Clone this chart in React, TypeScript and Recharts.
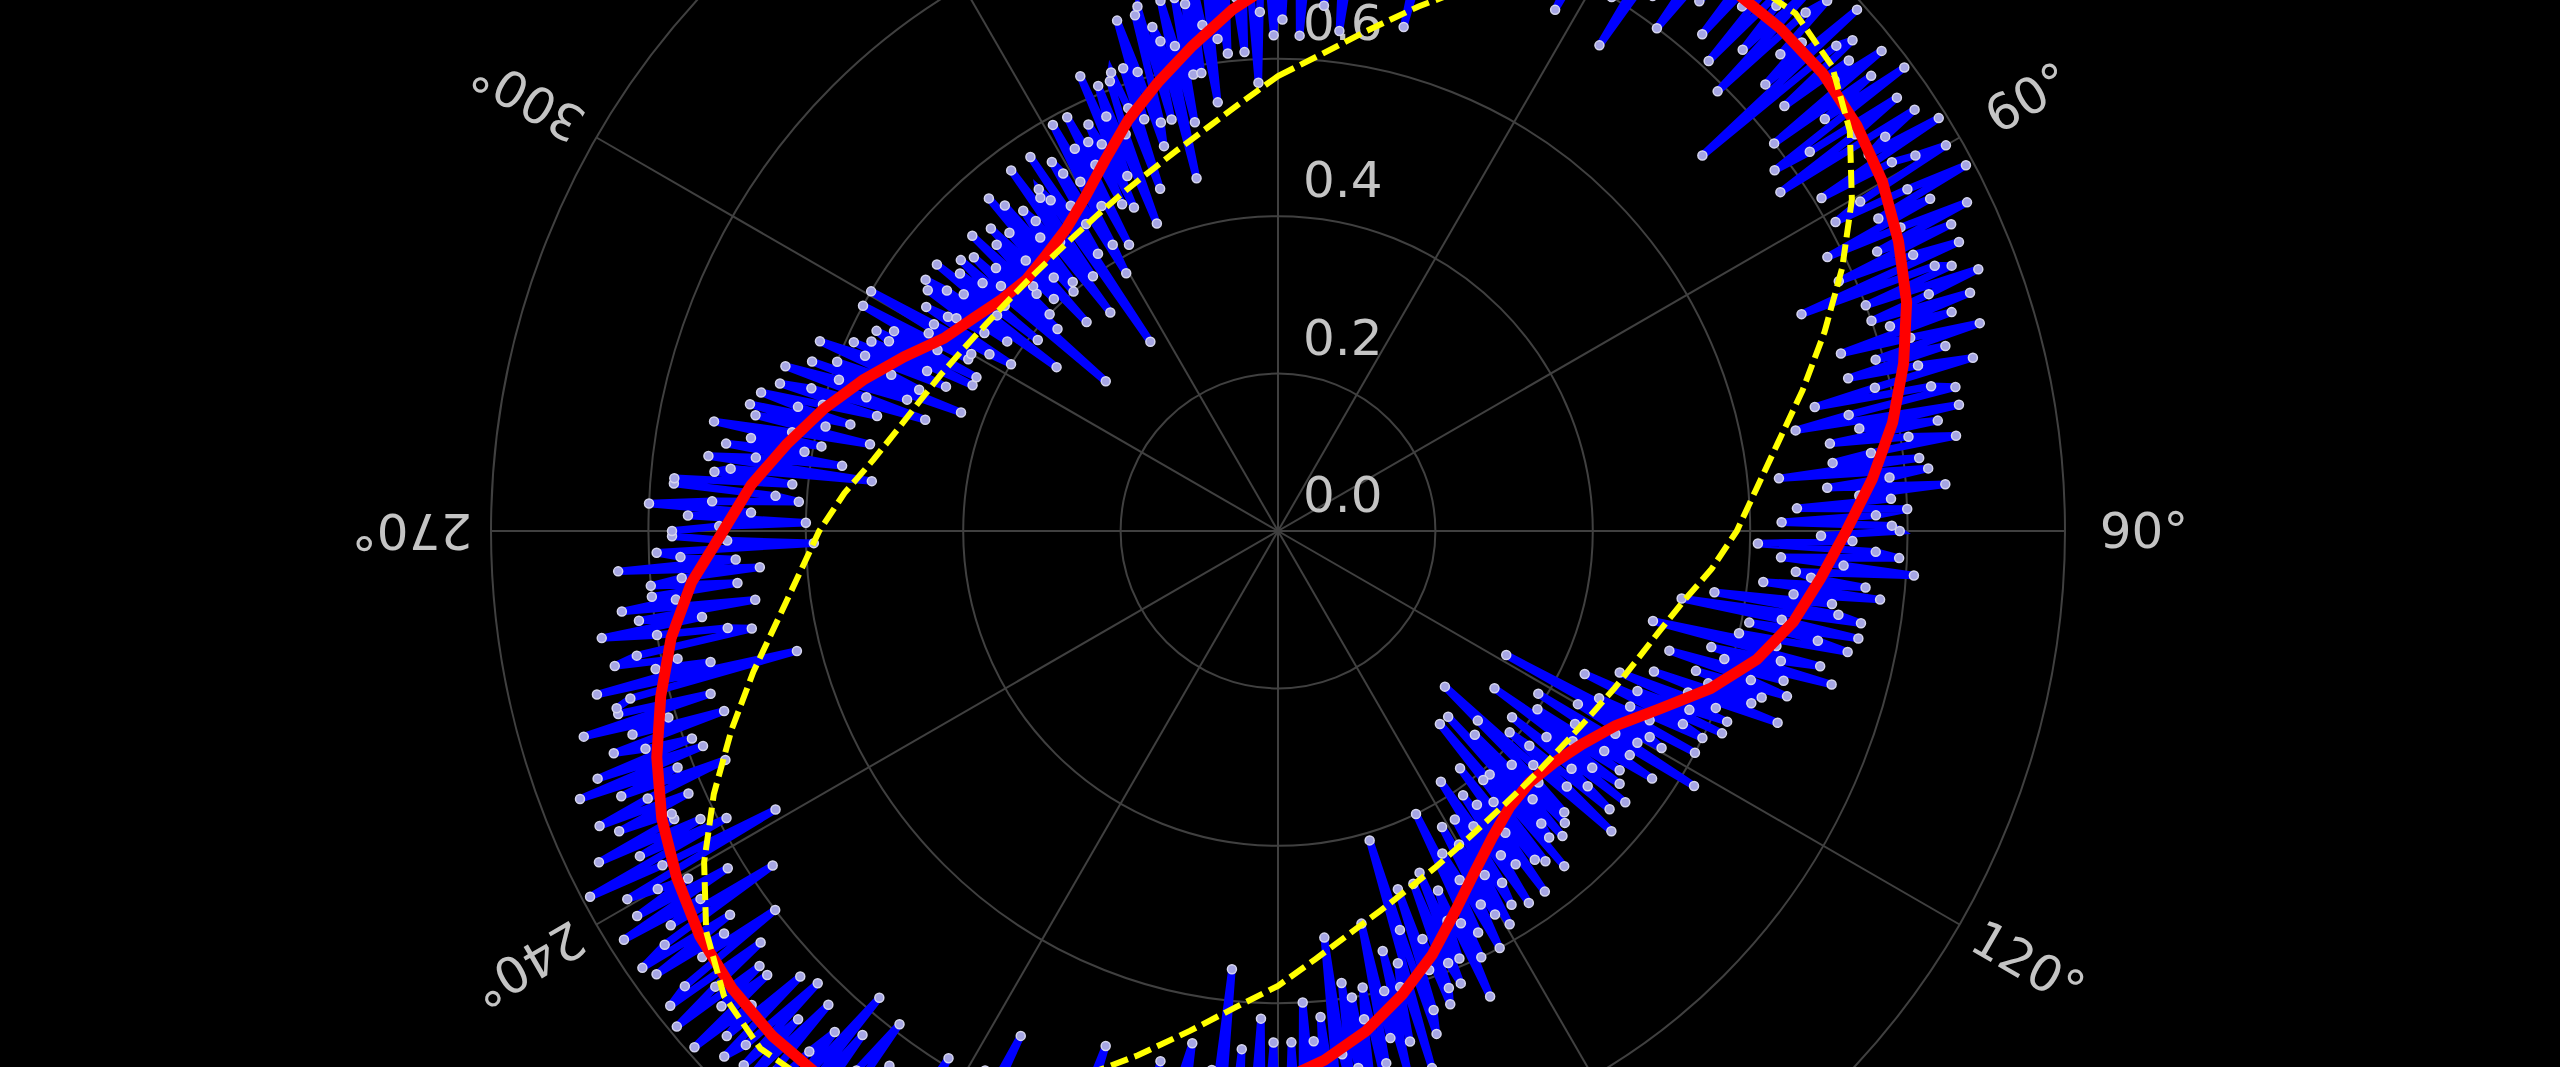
import React from 'react';
import { RadarChart, Radar, PolarGrid, PolarAngleAxis, PolarRadiusAxis } from 'recharts';

const W = 2560;
const H = 1067;
const CX = 1278;
const CY = 531;
const OUTER = 787;
const TEXT = '#c4c4c4';
const GRID = '#404040';

// angular tick labels (deg, clockwise from top)
const angleTicks = [0, 30, 60, 90, 120, 150, 180, 210, 240, 270, 300, 330];

// fitted curve (red), one value every 5 deg starting at 0
const redR = [
  0.700, 0.735, 0.770, 0.800, 0.830, 0.855, 0.875, 0.890, 0.898, 0.903,
  0.904, 0.898, 0.887, 0.870, 0.850, 0.823, 0.793, 0.758, 0.722, 0.692,
  0.665, 0.630, 0.585, 0.535, 0.495, 0.472, 0.458, 0.452, 0.458, 0.475,
  0.500, 0.533, 0.573, 0.610, 0.645, 0.675, 0.700, 0.735, 0.770, 0.800,
  0.830, 0.855, 0.875, 0.893, 0.905, 0.908, 0.905, 0.897, 0.882, 0.864,
  0.840, 0.812, 0.783, 0.748, 0.705, 0.672, 0.634, 0.598, 0.561, 0.524,
  0.490, 0.472, 0.458, 0.452, 0.458, 0.469, 0.490, 0.520, 0.556, 0.590,
  0.626, 0.665,
];

// ellipse (yellow dashed), same 5 deg steps
const yellowR = [
  0.578, 0.607, 0.645, 0.690, 0.739, 0.791, 0.842, 0.887, 0.919, 0.930,
  0.919, 0.887, 0.842, 0.791, 0.739, 0.690, 0.645, 0.610, 0.583, 0.553,
  0.522, 0.500, 0.484, 0.472, 0.462, 0.455, 0.451, 0.450, 0.451, 0.455,
  0.462, 0.472, 0.484, 0.500, 0.520, 0.546, 0.578, 0.607, 0.645, 0.690,
  0.739, 0.791, 0.842, 0.887, 0.919, 0.930, 0.919, 0.887, 0.842, 0.791,
  0.739, 0.690, 0.645, 0.610, 0.583, 0.553, 0.522, 0.500, 0.484, 0.472,
  0.462, 0.455, 0.451, 0.450, 0.451, 0.455, 0.462, 0.472, 0.484, 0.500,
  0.520, 0.546,
];

// noisy measurements (blue), one value every 0.5 deg starting at 0
const blueR = [
  .73, .65, .79, .69, .77, .63, .73, .82, .69, .78, .67, .76, .83, .72, .64, .79, .83, .70, .77, .85,
  .73, .83, .70, .81, .87, .77, .73, .84, .66, .87, .82, .75, .91, .80, .85, .74, .88, .85, .73, .88,
  .90, .80, .85, .74, .89, .92, .79, .87, .96, .81, .85, .92, .79, .95, .84, .90, .75, .92, .95, .82,
  .86, .97, .83, .92, .80, .94, .89, .74, .96, .92, .83, .99, .86, .94, .80, .91, .98, .86, .96, .89,
  .95, .83, 1.0, .89, .93, .81, .96, .92, .85, .98, .79, .94, .97, .88, .91, .84, .99, .72, .94, .96,
  .84, .94, .91, .98, .80, .95, .87, .99, .78, .83, .96, .89, .77, .97, .92, .89, .99, .81, .91, .94,
  .98, .85, .81, .91, .99, .86, .93, .78, .88, .97, .84, .94, .78, .88, .94, .72, .90, .92, .80, .95,
  .88, .80, .93, .82, .90, .75, .84, .93, .79, .88, .75, .84, .91, .78, .70, .85, .88, .74, .67, .88,
  .75, .85, .71, .81, .87, .76, .71, .82, .64, .83, .78, .70, .85, .74, .78, .66, .80, .76, .64, .78,
  .79, .69, .73, .61, .76, .79, .64, .72, .81, .66, .68, .75, .62, .77, .66, .71, .56, .72, .75, .52,
  .65, .75, .61, .70, .74, .60, .65, .49, .71, .66, .57, .73, .59, .67, .52, .63, .68, .56, .65, .58,
  .64, .51, .68, .56, .60, .47, .62, .57, .50, .62, .43, .57, .60, .50, .53, .46, .60, .33, .54, .56,
  .44, .53, .50, .62, .39, .53, .45, .57, .50, .40, .53, .46, .34, .54, .50, .43, .56, .38, .48, .51,
  .55, .42, .39, .49, .57, .44, .29, .35, .46, .51, .42, .52, .36, .47, .53, .32, .50, .52, .41, .56,
  .32, .41, .54, .44, .53, .38, .48, .57, .43, .52, .41, .50, .57, .45, .38, .53, .56, .43, .51, .58,
  .46, .56, .43, .54, .60, .50, .46, .57, .40, .60, .55, .65, .50, .54, .59, .47, .62, .59, .48, .62,
  .64, .55, .59, .48, .64, .67, .53, .41, .71, .57, .60, .67, .55, .71, .60, .66, .51, .69, .72, .59,
  .63, .74, .60, .69, .58, .72, .67, .52, .74, .70, .62, .78, .65, .73, .60, .71, .77, .65, .76, .69,
  .78, .65, .73, .77, .62, .75, .71, .83, .66, .78, .80, .78, .56, .84, .69, .76, .74, .83, .80, .66,
  .70, .79, .87, .75, .83, .69, .87, .80, .83, .74, .85, .82, .73, .91, .77, .85, .89, .69, .81, .89,
  .89, .84, .74, .89, .82, .95, .88, .78, .81, .94, .96, .81, .92, .90, .72, .95, .89, .78, .94, .84,
  .93, .84, .98, .89, .79, .94, .87, .97, .84, .92, .97, .90, .84, .97, .94, .79, .87, .99, .92, .83,
  .98, .78, .96, .85, .89, 1.0, .94, .83, .97, .87, .96, .82, .94, .97, .83, .95, .90, .99, .86, .93,
  .86, .99, .92, .84, .98, .95, .80, .91, .87, .97, .85, .98, .94, .77, .92, .87, .98, .82, .95, .87,
  .91, .95, .73, .89, .99, .79, .91, .82, .96, .85, .85, .92, .82, .94, .87, .76, .90, .82, .95, .78,
  .92, .79, .85, .89, .74, .86, .81, .92, .75, .87, .87, .85, .63, .89, .74, .81, .78, .86, .83, .68,
  .71, .80, .87, .74, .82, .67, .84, .77, .80, .69, .80, .76, .66, .84, .69, .76, .79, .59, .70, .77,
  .77, .71, .60, .75, .67, .80, .72, .61, .64, .77, .77, .62, .72, .70, .52, .73, .67, .56, .71, .61,
  .68, .59, .73, .63, .53, .68, .59, .69, .56, .63, .68, .60, .53, .66, .62, .47, .55, .66, .59, .50,
  .63, .43, .60, .49, .53, .63, .57, .46, .59, .49, .57, .43, .55, .57, .43, .55, .49, .60, .45, .51,
  .45, .60, .51, .43, .40, .53, .50, .49, .45, .54, .42, .55, .52, .35, .50, .45, .55, .39, .52, .45,
  .49, .53, .29, .47, .52, .38, .49, .40, .54, .43, .44, .51, .41, .53, .47, .36, .51, .43, .56, .40,
  .54, .41, .48, .52, .50, .35, .46, .57, .40, .52, .53, .51, .29, .57, .42, .49, .46, .55, .53, .38,
  .42, .51, .59, .47, .55, .41, .59, .52, .55, .46, .57, .54, .45, .63, .49, .57, .61, .42, .54, .61,
  .62, .57, .46, .62, .55, .68, .61, .51, .54, .68, .69, .54, .66, .64, .46, .69, .63, .53, .69, .59,
  .68, .59, .73, .65, .55, .71, .63, .73, .61, .69, .75, .68, .61, .75, .72, .57, .66, .78, .71, .63,
];

// invisible anchor series (full radial range) so the grid chart builds its radius ticks
const gridData = angleTicks.map((t) => ({ theta: t, span: 1 }));
const curveData = redR.map((r, i) => ({ theta: i * 5, red: r, yellow: yellowR[i] }));
const blueData = blueR.map((r, i) => ({ theta: i * 0.5, r }));

const layer: React.CSSProperties = { position: 'absolute', left: 0, top: 0 };
const chartProps = {
  width: W,
  height: H,
  cx: CX,
  cy: CY,
  outerRadius: OUTER,
  margin: { top: 0, right: 0, bottom: 0, left: 0 },
};

function onCanvas(x: number, y: number) {
  return x > -60 && x < W + 60 && y > -30 && y < H + 30;
}

function AngleTick(props: any) {
  const { x, y, payload } = props;
  const v = Number(payload.value);
  if (!onCanvas(x, y)) return <g />;
  return (
    <text
      x={x}
      y={y}
      transform={`rotate(${v - 90} ${x} ${y})`}
      textAnchor="middle"
      dominantBaseline="central"
      fill={TEXT}
      fontSize={50}
      fontFamily="DejaVu Sans"
    >
      {`${v}°`}
    </text>
  );
}

function RadiusTick(props: any) {
  const { x, y, payload } = props;
  if (y - 19 < -10) return <g />;
  return (
    <text x={x + 25} y={y - 19} textAnchor="start" fill={TEXT} fontSize={50} fontFamily="DejaVu Sans">
      {Number(payload.value).toFixed(1)}
    </text>
  );
}

function BlueDot(props: any) {
  const { cx, cy, index } = props;
  return (
    <circle key={`b${index}`} cx={cx} cy={cy} r={4.5} fill="#a6a6e4" stroke="#d6d6ee" strokeWidth={1.5} />
  );
}

export default function App() {
  return (
    <div style={{ position: 'absolute', left: 0, top: 0, width: W, height: H, background: '#000', overflow: 'hidden' }}>
      {/* grid + axis labels */}
      <div style={layer}>
        <RadarChart {...chartProps} data={gridData}>
          <PolarGrid gridType="circle" stroke={GRID} strokeWidth={2} />
          <PolarAngleAxis dataKey="theta" tick={AngleTick} tickLine={false} axisLine={false} tickSize={79} />
          <PolarRadiusAxis
            angle={90}
            type="number"
            domain={[0, 1]}
            allowDecimals
            tickCount={6}
            tick={RadiusTick}
            axisLine={false}
            tickLine={false}
          />
          <Radar dataKey="span" stroke="none" fill="none" fillOpacity={0} dot={false} isAnimationActive={false} />
        </RadarChart>
      </div>

      {/* noisy data */}
      <div style={layer}>
        <RadarChart {...chartProps} data={blueData}>
          <PolarAngleAxis dataKey="theta" tick={false} tickLine={false} axisLine={false} />
          <PolarRadiusAxis angle={90} type="number" domain={[0, 1]} allowDecimals tickCount={6} tick={false} axisLine={false} tickLine={false} />
          <Radar
            dataKey="r"
            stroke="#0000ff"
            strokeWidth={7.5}
            fill="none"
            fillOpacity={0}
            dot={BlueDot}
            isAnimationActive={false}
          />
        </RadarChart>
      </div>

      {/* fit + ellipse */}
      <div style={layer}>
        <RadarChart {...chartProps} data={curveData}>
          <PolarAngleAxis dataKey="theta" tick={false} tickLine={false} axisLine={false} />
          <PolarRadiusAxis angle={90} type="number" domain={[0, 1]} allowDecimals tickCount={6} tick={false} axisLine={false} tickLine={false} />
          <Radar dataKey="red" stroke="#ff0000" strokeWidth={11} fill="none" fillOpacity={0} dot={false} isAnimationActive={false} />
          <Radar
            dataKey="yellow"
            stroke="#ffff00"
            strokeWidth={6}
            strokeDasharray="18 7"
            fill="none"
            fillOpacity={0}
            dot={false}
            isAnimationActive={false}
          />
        </RadarChart>
      </div>
    </div>
  );
}
